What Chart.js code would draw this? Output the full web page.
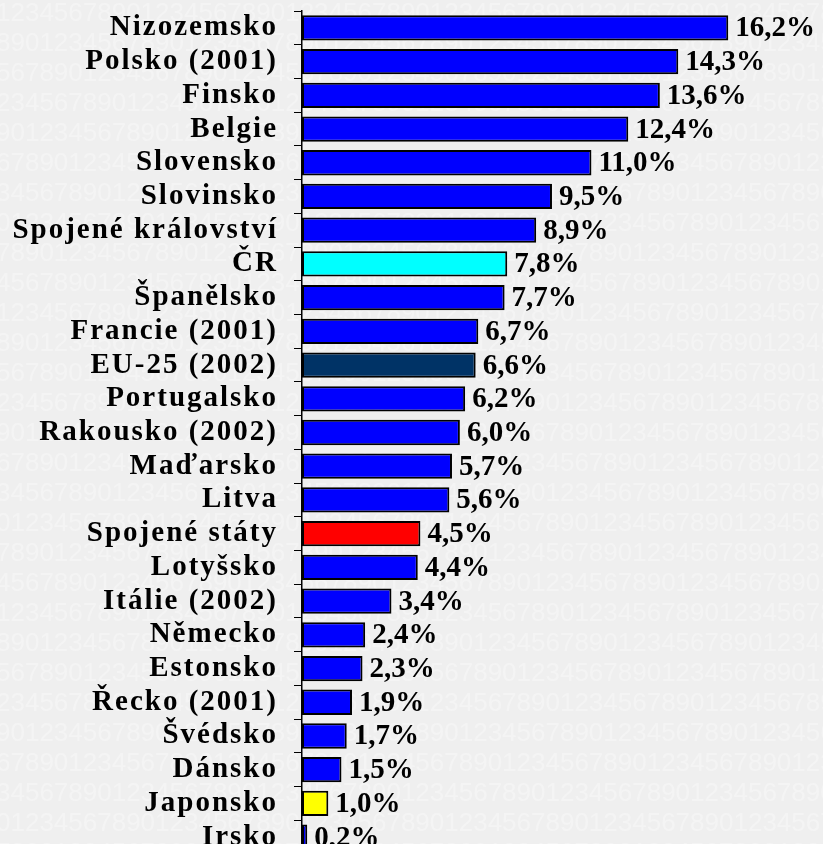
<!DOCTYPE html>
<html>
<head>
  <title>Graf</title>
  <style>
    body {
      margin: 0;
      overflow: hidden;
      background: #efefef;
    }
    #chart-container {
      width: 823px;
      height: 860px;
    }
  </style>
</head>
<body>
  <div id="chart-container">
    <canvas id="chart"></canvas>
  </div>
  <script src="https://cdn.jsdelivr.net/npm/chart.js"></script>
  <script>
    // data
    const countries = [
      "Nizozemsko", "Polsko (2001)", "Finsko", "Belgie", "Slovensko", "Slovinsko",
      "Spojené království", "ČR", "Španělsko", "Francie (2001)", "EU-25 (2002)",
      "Portugalsko", "Rakousko (2002)", "Maďarsko", "Litva", "Spojené státy",
      "Lotyšsko", "Itálie (2002)", "Německo", "Estonsko", "Řecko (2001)",
      "Švédsko", "Dánsko", "Japonsko", "Irsko"
    ];
    const shares = [
      16.2, 14.3, 13.6, 12.4, 11.0, 9.5,
      8.9, 7.8, 7.7, 6.7, 6.6,
      6.2, 6.0, 5.7, 5.6, 4.5,
      4.4, 3.4, 2.4, 2.3, 1.9,
      1.7, 1.5, 1.0, 0.2
    ];

    // highlighted bars
    const BLUE = "#0000ff";
    const highlight = { "ČR": "#00ffff", "EU-25 (2002)": "#003366", "Spojené státy": "#ff0000", "Japonsko": "#ffff00" };
    const barColors = countries.map(c => highlight[c] || BLUE);

    // grey background with faint digit texture
    const backgroundPlugin = {
      id: "bg",
      beforeDraw(chart) {
        const ctx = chart.ctx;
        ctx.save();
        ctx.fillStyle = "#efefef";
        ctx.fillRect(0, 0, chart.width, chart.height);
        ctx.fillStyle = "#f4f4f4";
        ctx.font = "26px 'Liberation Sans'";
        ctx.textBaseline = "middle";
        const digits = "1234567890".repeat(8);
        for (let row = 0; row < 30; row++) {
          ctx.fillText(digits.slice((row * 7) % 10), -4, 14 + row * 30);
        }
        ctx.restore();
        ctx.letterSpacing = "2px"; // spaced-out category names
      }
    };

    // value labels at the end of each bar
    const valueLabels = {
      id: "valueLabels",
      afterDatasetsDraw(chart) {
        const ctx = chart.ctx;
        const meta = chart.getDatasetMeta(0);
        ctx.save();
        ctx.letterSpacing = "0px";
        ctx.font = "bold 29px 'Liberation Serif'";
        ctx.fillStyle = "#000";
        ctx.textAlign = "left";
        ctx.textBaseline = "middle";
        meta.data.forEach((bar, i) => {
          const txt = shares[i].toFixed(1).replace(".", ",") + "%";
          ctx.fillText(txt, bar.x + 7, bar.y + 1);
        });
        ctx.restore();
      }
    };

    const chart = new Chart(document.getElementById("chart"), {
      type: "bar",
      data: {
        labels: countries,
        datasets: [{
          data: shares,
          backgroundColor: barColors,
          borderColor: "#000",
          borderWidth: 2,
          borderSkipped: false,
          barPercentage: 0.75,
          categoryPercentage: 1
        }]
      },
      options: {
        indexAxis: "y",
        responsive: true,
        maintainAspectRatio: false,
        animation: false,
        layout: { padding: { top: 11, right: 0, bottom: 6, left: 0 } },
        plugins: {
          legend: { display: false },
          tooltip: { enabled: false }
        },
        scales: {
          x: {
            display: false,
            min: 0,
            max: 19.8
          },
          y: {
            afterFit(scale) {
              scale.width = 302;
              scale.paddingTop = 0;
              scale.paddingBottom = 0;
            },
            grid: {
              offset: true,
              drawOnChartArea: false,
              tickLength: 8,
              color: "#000",
              lineWidth: 1
            },
            border: { display: true, color: "#000", width: 1.5 },
            ticks: {
              autoSkip: false,
              color: "#000",
              padding: 16,
              font: { family: "'Liberation Serif'", size: 29, weight: "bold" }
            }
          }
        }
      },
      plugins: [backgroundPlugin, valueLabels]
    });
  </script>
</body>
</html>
